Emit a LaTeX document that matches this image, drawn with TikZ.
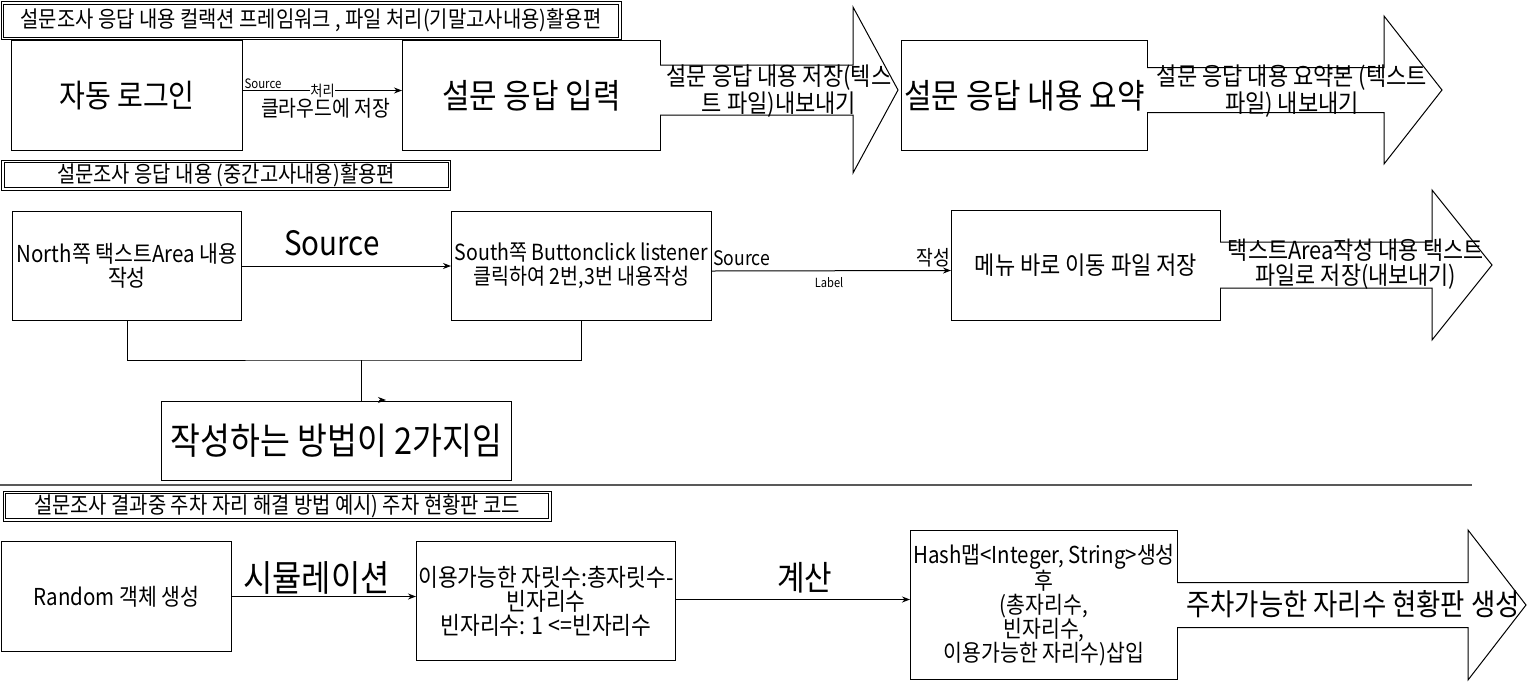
\documentclass[tikz,border=0pt]{standalone}
\usepackage{fontspec}
\setmainfont[FakeStretch=0.88]{Noto Sans CJK KR}
\usetikzlibrary{arrows.meta}
\newcommand{\fsz}[2]{\fontsize{#1pt}{#2pt}\selectfont}
\newcommand{\blockarrow}[6]{%
\draw[blk](#1,#4-#5)--(#2,#4-#5)--(#2,#4-#6)--(#3,#4)--(#2,#4+#6)--(#2,#4+#5)--(#1,#4+#5);}
\newcommand{\innerline}[1]{\draw[line width=1pt]([shift={(3,3)}]#1.north west)rectangle([shift={(-3,-3)}]#1.south east);}
\begin{document}
\begin{tikzpicture}[x=1pt,y=-1pt,>={Stealth[length=8pt,width=6pt]},
  box/.style={draw,line width=1pt,inner sep=0pt,align=center,anchor=north west},
  ttl/.style={draw,line width=1pt,inner sep=0pt,font=\fsz{22.6}{24}},
  blk/.style={draw,line width=1pt,fill=white,line join=miter},
  mid/.style={font=\fsz{25}{25.5},align=center,inner sep=0pt},
  big/.style={font=\fsz{34}{36}},
  link/.style={draw,line width=1pt,->}]
\useasboundingbox(0,0)rectangle(1532,681);
% first part
\node[ttl,minimum width=620,minimum height=38](t1)at(311,20.5){설문조사 응답 내용 컬랙션 프레임워크 , 파일 처리(기말고사내용)활용편};
\innerline{t1}
\node[box,minimum width=231,minimum height=110,font=\fsz{31.9}{33}](login)at(11,40){자동 로그인};
\node[box,minimum width=258,minimum height=110,big](input)at(402,40){설문 응답 입력};
\node[box,minimum width=246,minimum height=110,big](summ)at(901,40){설문 응답 내용 요약};
\draw[link]([yshift=5pt]login.east)--([yshift=5pt]input.west)
  node[pos=0,anchor=south west,inner sep=1pt,font=\fsz{13}{14}]{Source}
  node[midway,fill=white,inner sep=0.3pt,font=\fsz{15}{16}]{처리}
  node[pos=0.52,yshift=-18pt,inner sep=0pt,font=\fsz{22}{23}]{클라우드에 저장};
\blockarrow{660}{853}{898}{90}{25}{83}
\node[mid](save1)at(779,91){설문 응답 내용 저장(텍스\\트 파일)내보내기};
\blockarrow{1147}{1384}{1442}{90}{22.5}{74}
\node[mid](save2)at(1292,91){설문 응답 내용 요약본 (텍스트\\파일) 내보내기};
% second part
\node[ttl,minimum width=449,minimum height=30](t2)at(226,175){설문조사 응답 내용 (중간고사내용)활용편};
\innerline{t2}
\node[box,minimum width=229,minimum height=109,font=\fsz{23.3}{24.5}](north)at(12,211){North쪽 택스트Area 내용\\작성};
\node[box,minimum width=260,minimum height=109,font=\fsz{22.2}{24.5}](south)at(451,211){South쪽 Buttonclick listener\\클릭하여 2번,3번 내용작성};
\node[box,minimum width=269,minimum height=110,font=\fsz{25}{26}](menu)at(951,210){메뉴 바로 이동 파일 저장};
\node[box,minimum width=350,minimum height=79,font=\fsz{36.9}{38}](two)at(161,401){작성하는 방법이 2가지임};
\draw[link](north.east)--(south.west)
  node[pos=0.43,yshift=23pt,font=\fsz{33.6}{35}]{Source};
\draw[link]([yshift=-5pt]south.east)--([yshift=-5pt]menu.west)
  node[pos=0,anchor=west,xshift=1pt,yshift=13pt,inner sep=0pt,font=\fsz{20}{22}]{Source}
  node[pos=1,anchor=east,yshift=13pt,inner sep=0pt,font=\fsz{20.7}{22}]{작성}
  node[pos=0.49,yshift=-12pt,inner sep=0pt,font=\fsz{12.6}{14}]{Label};
\coordinate(jn)at(361,360);
\draw[line width=1pt](north.south)|-(jn)-|(south.south);
\draw[line width=1pt](jn)--(jn|-two.north);
\coordinate(tip)at(386,400);
\draw[link]([xshift=-7pt]tip)--(tip);
\blockarrow{1220}{1432}{1492}{265}{23}{75}
\node[mid,font=\fsz{24.8}{25}](save3)at(1356,264){택스트Area작성 내용 택스트\\파일로 저장(내보내기)};
\draw[line width=1.5pt,black!65](0,485)--(1472,485);
% third part
\node[ttl,minimum width=548,minimum height=30](t3)at(277,506){설문조사 결과중 주차 자리 해결 방법 예시) 주차 현황판 코드};
\innerline{t3}
\node[box,minimum width=230,minimum height=110,font=\fsz{23.3}{24}](rand)at(1,541){Random 객체 생성};
\node[box,minimum width=259,minimum height=119,font=\fsz{24.4}{24}](seat)at(416,541){이용가능한 자릿수:총자릿수-\\빈자리수\\빈자리수: 1 <=빈자리수};
\node[box,minimum width=267,minimum height=149,font=\fsz{23.3}{24}](hash)at(910,530){Hash맵<Integer, String>생성\\후\\(총자리수,\\빈자리수,\\이용가능한 자리수)삽입};
\draw[link](rand.east)--(rand.east-|seat.west)
  node[pos=0.46,yshift=19pt,font=\fsz{36.2}{38}]{시뮬레이션};
\draw[link]([yshift=1.5pt]seat.east)--([yshift=1.5pt]seat.east-|hash.west)
  node[pos=0.55,yshift=22pt,font=\fsz{34}{36}]{계산};
\blockarrow{1177}{1468}{1526}{605}{22.5}{75}
\node[mid,font=\fsz{30}{31}](board)at(1353,604){주차가능한 자리수 현황판 생성};
\end{tikzpicture}
\end{document}
